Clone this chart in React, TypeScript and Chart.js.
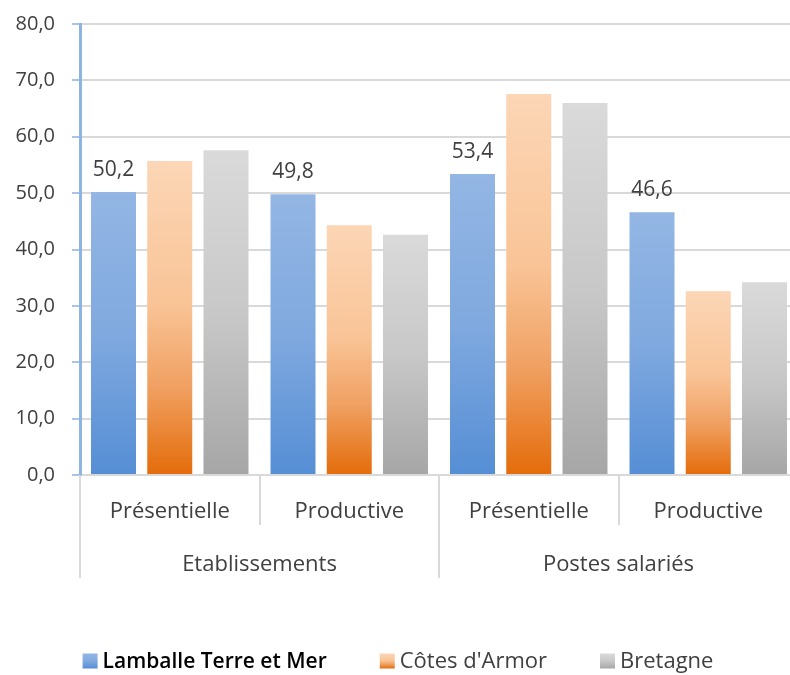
import React, { useEffect, useRef } from "react";
import { Chart, registerables } from "chart.js";

Chart.register(...registerables);

const categories = ["Présentielle", "Productive", "Présentielle", "Productive"];
const groups = ["Etablissements", "Postes salariés"];
const seriesNames = ["Lamballe Terre et Mer", "Côtes d'Armor", "Bretagne"];
const lamballe = [50.2, 49.8, 53.4, 46.6];
const cotesArmor = [55.7, 44.3, 67.6, 32.6];
const bretagne = [57.6, 42.6, 66.0, 34.2];
const yTicks = [0, 10, 20, 30, 40, 50, 60, 70, 80];

const FONT = "'Open Sans', 'Noto Sans', sans-serif";
const TEXT = "#404040";

type Stops = [number, string][];
const blueStops: Stops = [[0, "#93B6E4"], [0.5, "#80A9DF"], [1, "#558ED5"]];
const orangeStops: Stops = [[0, "#FCD6B6"], [0.45, "#F9C497"], [0.72, "#F0A062"], [1, "#E46C0A"]];
const grayStops: Stops = [[0, "#DADADA"], [0.5, "#C8C8C8"], [1, "#A6A6A6"]];

const fmt = (v: number) => v.toFixed(1).replace(".", ",");

function barGradient(stops: Stops) {
  return (ctx: any) => {
    const chart = ctx.chart;
    if (!chart.chartArea || ctx.type !== "data") return stops[0][1];
    const y = chart.scales.y;
    const top = y.getPixelForValue(ctx.raw as number);
    const bottom = y.getPixelForValue(0);
    const g = chart.ctx.createLinearGradient(0, top, 0, bottom);
    stops.forEach(([o, c]) => g.addColorStop(o, c));
    return g;
  };
}

const decorPlugin = {
  id: "decor",
  afterDraw(chart: any) {
    const { ctx, scales, chartArea } = chart;
    const x = scales.x;
    const base = chartArea.bottom;
    ctx.save();
    // separators
    ctx.strokeStyle = "#D9D9D9";
    ctx.lineWidth = 2;
    const bounds = [-0.5, 0.5, 1.5, 2.5, 3.5];
    bounds.forEach((b, i) => {
      const px = Math.round(x.getPixelForValue(b));
      const long = i % 2 === 0;
      ctx.beginPath();
      ctx.moveTo(px, base);
      ctx.lineTo(px, base + (long ? 103 : 50));
      ctx.stroke();
    });
    // group labels
    ctx.fillStyle = TEXT;
    ctx.font = `22px ${FONT}`;
    ctx.textAlign = "center";
    ctx.textBaseline = "alphabetic";
    groups.forEach((g, i) => {
      const cx = x.getPixelForValue(i * 2 + 0.5);
      ctx.fillText(g, cx, base + 96);
    });
    // data labels for first series
    ctx.font = `21px ${FONT}`;
    const meta = chart.getDatasetMeta(0);
    meta.data.forEach((bar: any, i: number) => {
      ctx.fillText(fmt(lamballe[i]), bar.x, bar.y - 16);
    });
    // legend
    const stopsList = [blueStops, orangeStops, grayStops];
    const boxSize = 15;
    const gapBox = 5;
    const gapItem = 53;
    const legendFonts = [`600 21px ${FONT}`, `22px ${FONT}`, `22px ${FONT}`];
    const legendColors = ["#000000", TEXT, TEXT];
    const widths = seriesNames.map((n, i) => {
      ctx.font = legendFonts[i];
      return ctx.measureText(n).width;
    });
    const total = widths.reduce((s, w) => s + boxSize + gapBox + w, 0) + gapItem * (seriesNames.length - 1);
    let lx = 398 - total / 2;
    const ly = 661;
    ctx.textAlign = "left";
    ctx.textBaseline = "middle";
    seriesNames.forEach((n, i) => {
      const g = ctx.createLinearGradient(0, ly - boxSize / 2, 0, ly + boxSize / 2);
      stopsList[i].forEach(([o, c]) => g.addColorStop(o, c));
      ctx.fillStyle = g;
      ctx.fillRect(lx, ly - boxSize / 2, boxSize, boxSize);
      ctx.font = legendFonts[i];
      ctx.fillStyle = legendColors[i];
      ctx.fillText(n, lx + boxSize + gapBox, ly + 1);
      lx += boxSize + gapBox + widths[i] + gapItem;
    });
    ctx.restore();
  },
};

export default function App() {
  const ref = useRef<HTMLCanvasElement | null>(null);
  useEffect(() => {
    if (!ref.current) return;
    const chart = new Chart(ref.current, {
      type: "bar",
      data: {
        labels: categories,
        datasets: [
          { label: seriesNames[0], data: lamballe, backgroundColor: barGradient(blueStops) as any },
          { label: seriesNames[1], data: cotesArmor, backgroundColor: barGradient(orangeStops) as any },
          { label: seriesNames[2], data: bretagne, backgroundColor: barGradient(grayStops) as any },
        ],
      },
      options: {
        responsive: false,
        animation: false,
        layout: { padding: { top: 0, right: 2, left: 0, bottom: 0 } },
        datasets: { bar: { categoryPercentage: 0.94, barPercentage: 0.8 } },
        plugins: { legend: { display: false }, tooltip: { enabled: false } },
        scales: {
          x: {
            grid: { display: false, drawTicks: false },
            border: { display: false },
            ticks: { color: TEXT, font: { family: FONT, size: 22 }, padding: 24, maxRotation: 0 },
            afterFit: (s: any) => { s.height = 200; },
          },
          y: {
            min: 0,
            max: 80,
            afterBuildTicks: (s: any) => { s.ticks = yTicks.map((v) => ({ value: v })); },
            grid: { color: "#D9D9D9", lineWidth: 2, tickColor: "#A9C4EB", tickLength: 8 },
            border: { display: true, color: "#8EB4E3", width: 3 },
            ticks: {
              color: TEXT,
              font: { family: FONT, size: 20, lineHeight: 0.7 },
              padding: 17,
              callback: (v: any) => fmt(Number(v)),
            },
            afterFit: (s: any) => { s.width = 80; },
          },
        },
      },
      plugins: [decorPlugin],
    });
    return () => chart.destroy();
  }, []);
  return (
    <div style={{ position: "fixed", left: 0, top: 0, width: 790, height: 675, overflow: "hidden", background: "#fff" }}>
      <canvas ref={ref} width={800} height={675} style={{ width: 800, height: 675 }} />
    </div>
  );
}
